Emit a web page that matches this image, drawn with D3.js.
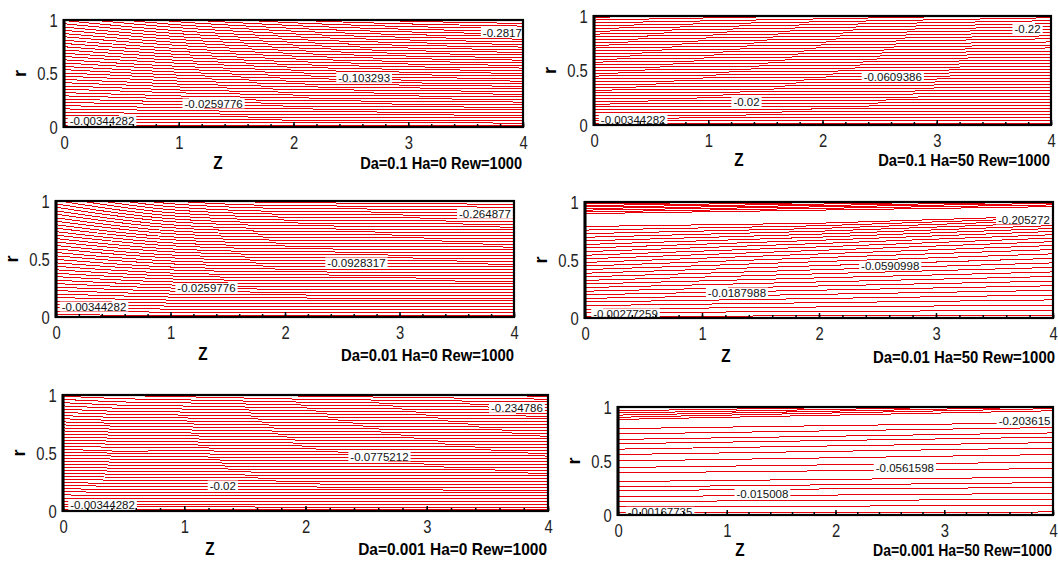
<!DOCTYPE html>
<html>
<head>
<meta charset="utf-8">
<script src="https://cdn.jsdelivr.net/npm/d3@7"></script>
<style>
  body { margin: 0; background: #fff; }
  svg { display: block; }
  text { font-family: "Liberation Sans", Arial, sans-serif; }
</style>
</head>
<body>
<div id="chart"></div>
<script>
// axis values
const xTicks = [0, 1, 2, 3, 4];
const yTicks = [0, 0.5, 1];
const yTickLabels = ["0", "0.5", "1"];

const titles = [
  "Da=0.1 Ha=0 Rew=1000", "Da=0.1 Ha=50 Rew=1000",
  "Da=0.01 Ha=0 Rew=1000", "Da=0.01 Ha=50 Rew=1000",
  "Da=0.001 Ha=0 Rew=1000", "Da=0.001 Ha=50 Rew=1000"
];

// z positions where each streamline's r values were read
const knotsA = [0, 1, 2, 4];
const knotsB = [0, 0.5, 1, 2, 4];
const knotsC = [0, 2, 4];

// Da=0.1 Ha=0 : r at z = 0,1,2,4
const p1Lines = [
  [.015,.014,.013,.012],[.046,.042,.039,.037],[.076,.069,.065,.061],[.108,.097,.091,.086],
  [.138,.124,.117,.110],[.169,.153,.143,.135],[.199,.180,.169,.159],[.230,.208,.195,.184],
  [.260,.235,.220,.208],[.291,.263,.247,.233],[.321,.290,.272,.257],[.353,.319,.299,.282],
  [.383,.346,.324,.306],[.414,.374,.351,.331],[.444,.401,.376,.355],[.475,.429,.403,.380],
  [.505,.457,.428,.404],[.536,.485,.455,.429],[.566,.512,.480,.453],[.598,.540,.507,.478],
  [.628,.567,.532,.502],[.659,.596,.559,.527],[.689,.623,.584,.551],[.720,.651,.611,.576],
  [.750,.678,.636,.600],[.781,.706,.663,.625],[.811,.733,.688,.649],[.843,.762,.714,.674],
  [.873,.789,.740,.698],[.904,.817,.766,.723],[.934,.844,.792,.747],[.965,.872,.818,.772],
  [.995,.899,.844,.796],[1.026,.928,.870,.821],[1.056,.955,.896,.845],[1.088,.983,.922,.870],
  [1.118,1.010,.948,.894],[1.149,1.038,.974,.919],[1.179,1.066,1.000,.943],[1.210,1.094,1.026,.968],
  [1.240,1.121,1.052,.992]
];

// Da=0.1 Ha=50 : r at z = 0,2,4
const p2Lines = [
  [.012,.012,.013],[.038,.039,.041],[.063,.066,.068],[.089,.093,.096],[.115,.120,.124],
  [.141,.147,.152],[.166,.173,.179],[.192,.200,.207],[.218,.227,.235],[.243,.253,.262],
  [.269,.280,.291],[.295,.307,.319],[.320,.333,.346],[.346,.360,.374],[.372,.387,.402],
  [.398,.414,.430],[.423,.440,.457],[.449,.467,.485],[.475,.494,.513],[.500,.520,.540],
  [.526,.547,.568],[.552,.574,.596],[.577,.600,.623],[.603,.627,.651],[.629,.654,.679],
  [.655,.681,.707],[.680,.707,.734],[.706,.734,.762],[.732,.761,.791],[.757,.787,.818],
  [.783,.814,.846],[.809,.841,.874],[.834,.867,.901],[.860,.894,.929],[.886,.921,.957],
  [.911,.947,.984],[.937,.974,1.012],[.963,1.002,1.040],[.988,1.028,1.067]
];

// Da=0.01 Ha=0 : r at z = 0,1,2,4
const p3Lines = [
  [.018,.016,.015,.015],[.049,.042,.041,.040],[.078,.068,.065,.064],[.109,.094,.090,.089],
  [.138,.120,.115,.113],[.168,.146,.140,.138],[.198,.172,.164,.162],[.228,.198,.190,.187],
  [.257,.224,.214,.211],[.288,.250,.240,.236],[.317,.276,.264,.260],[.348,.302,.289,.285],
  [.377,.328,.314,.309],[.407,.354,.339,.334],[.437,.379,.363,.358],[.467,.406,.389,.383],
  [.497,.431,.413,.407],[.527,.458,.438,.432],[.556,.483,.463,.456],[.587,.510,.488,.481],
  [.616,.535,.513,.505],[.647,.562,.538,.530],[.676,.587,.562,.554],[.706,.614,.588,.579],
  [.736,.639,.612,.603],[.766,.666,.637,.628],[.795,.691,.662,.652],[.826,.718,.687,.677],
  [.855,.743,.712,.701],[.886,.770,.737,.726],[.915,.795,.761,.750],[.946,.822,.787,.775],
  [.975,.847,.811,.799],[1.005,.873,.836,.824],[1.035,.899,.861,.848],[1.065,.925,.886,.873],
  [1.094,.951,.910,.897],[1.125,.977,.936,.922],[1.154,1.003,.960,.946],[1.185,1.029,.986,.971],
  [1.214,1.055,1.010,.995]
];

// Da=0.01 Ha=50 : r at z = 0,2,4 (core lines, then the wall layer)
const p4Lines = [
  [.015,.018,.022],[.045,.056,.066],[.076,.095,.112],[.107,.132,.156],[.138,.168,.198],
  [.169,.204,.238],[.200,.240,.278],[.231,.276,.318],[.262,.311,.358],[.293,.346,.397],
  [.324,.381,.436],[.355,.416,.475],[.386,.451,.514],[.417,.486,.553],[.448,.520,.590],
  [.479,.552,.625],[.510,.583,.658],[.541,.613,.689],[.572,.642,.718],[.603,.670,.746],
  [.634,.697,.772],[.665,.723,.797],[.696,.748,.820],[.727,.772,.842],[.758,.795,.862],
  [.789,.817,.880],
  [.900,.930,.960],[.915,.945,.975],[.930,.958,.988],[.944,.970,1.000],[.957,.982,1.012],
  [.970,.994,1.024],[.983,1.006,1.036]
];

// Da=0.001 Ha=0 : r at z = 0,0.5,1,2,4
const p5Lines = [
  [.010,.010,.010,.010,.010],[.035,.035,.035,.034,.034],[.060,.060,.059,.059,.058],
  [.085,.084,.084,.083,.082],[.112,.111,.110,.108,.107],[.138,.137,.136,.133,.131],
  [.165,.162,.161,.158,.156],[.192,.186,.186,.183,.180],[.220,.212,.210,.207,.205],
  [.248,.236,.236,.233,.229],[.274,.264,.261,.258,.254],[.300,.290,.287,.283,.278],
  [.326,.316,.313,.308,.303],[.352,.342,.339,.334,.327],[.378,.368,.364,.359,.352],
  [.404,.394,.390,.384,.376],[.430,.420,.416,.409,.401],[.456,.446,.442,.434,.425],
  [.482,.472,.467,.459,.450],[.508,.497,.493,.485,.474],[.534,.516,.519,.510,.499],
  [.560,.548,.545,.535,.523],[.586,.574,.570,.560,.548],[.612,.600,.596,.585,.572],
  [.638,.626,.622,.611,.597],[.664,.652,.648,.636,.621],[.690,.678,.673,.661,.646],
  [.716,.704,.699,.686,.670],[.742,.730,.725,.712,.695],[.768,.755,.751,.737,.719],
  [.795,.780,.776,.762,.744],[.822,.806,.802,.787,.768],[.850,.832,.827,.812,.793],
  [.878,.858,.853,.838,.817],[.906,.885,.879,.863,.842],[.934,.912,.905,.888,.866],
  [.962,.940,.932,.913,.891],[.990,.968,.958,.938,.915],[1.020,.996,.985,.963,.940],
  [1.050,1.025,1.012,.990,.964],[1.080,1.055,1.040,1.015,.989]
];

// Da=0.001 Ha=50 : r at z = 0,2,4 (core lines, then the wall layer)
const p6Lines = [
  [.020,.024,.028],[.075,.082,.090],[.125,.135,.145],[.170,.185,.200],[.225,.242,.255],
  [.260,.280,.300],[.310,.330,.350],[.390,.410,.430],[.440,.465,.490],[.500,.530,.560],
  [.560,.590,.620],[.610,.640,.670],[.660,.690,.720],[.700,.730,.760],[.750,.780,.810],
  [.800,.828,.855],
  [.885,.925,.965],[.905,.945,.985],[.925,.962,1.000],[.945,.978,1.015],[.965,.995,1.030]
];

// contour labels: text, z, r
const p1Labels = [["-0.00344282",0.05,0.055],["-0.0259776",1.05,0.22],["-0.103293",2.39,0.46],["-0.2817",3.65,0.88]];
const p2Labels = [["-0.00344282",0.06,0.05],["-0.02",1.22,0.21],["-0.0609386",2.36,0.44],["-0.22",3.68,0.88]];
const p3Labels = [["-0.00344282",0.05,0.09],["-0.0259776",1.06,0.25],["-0.0928317",2.37,0.47],["-0.264877",3.52,0.89]];
const p4Labels = [["-0.00277259",0.07,0.04],["-0.0187988",1.05,0.22],["-0.0590998",2.36,0.45],["-0.205272",3.53,0.85]];
const p5Labels = [["-0.00344282",0.06,0.05],["-0.02",1.21,0.22],["-0.0775212",2.37,0.47],["-0.234786",3.53,0.89]];
const p6Labels = [["-0.00167735",0.09,0.03],["-0.015008",1.09,0.2],["-0.0561598",2.37,0.44],["-0.203615",3.50,0.87]];

// layout of the six frames (pixels)
const panels = [
  { lines: p1Lines, knots: knotsA, labels: p1Labels, l: 64,  r: 523,  t: 20,  b: 127, zx: 218, zy: 163, titleEnd: 522,  titleLen: 162, titleY: 163 },
  { lines: p2Lines, knots: knotsC, labels: p2Labels, l: 594, r: 1051, t: 16,  b: 125, zx: 739, zy: 160, titleEnd: 1050, titleLen: 172, titleY: 160 },
  { lines: p3Lines, knots: knotsA, labels: p3Labels, l: 56,  r: 514,  t: 201, b: 317, zx: 203, zy: 354, titleEnd: 514,  titleLen: 173, titleY: 355 },
  { lines: p4Lines, knots: knotsC, labels: p4Labels, l: 585, r: 1053, t: 202, b: 318, zx: 726, zy: 356, titleEnd: 1055, titleLen: 182, titleY: 357 },
  { lines: p5Lines, knots: knotsB, labels: p5Labels, l: 63,  r: 548,  t: 395, b: 511, zx: 210, zy: 549, titleEnd: 547,  titleLen: 189, titleY: 549 },
  { lines: p6Lines, knots: knotsC, labels: p6Labels, l: 618, r: 1053, t: 407, b: 515, zx: 740, zy: 550, titleEnd: 1052, titleLen: 179, titleY: 550 }
];

const W = 1058, H = 563;
const svg = d3.select("#chart").append("svg")
  .attr("width", W).attr("height", H);
svg.append("rect").attr("width", W).attr("height", H).attr("fill", "#fff");

panels.forEach((p, k) => drawPanel(p, k));

function drawPanel(p, k) {
  const x = d3.scaleLinear().domain([0, 4]).range([p.l, p.r]);
  const y = d3.scaleLinear().domain([0, 1]).range([p.b, p.t]);
  const g = svg.append("g");

  const clipId = "clip" + k;
  g.append("clipPath").attr("id", clipId)
    .append("rect")
    .attr("x", p.l).attr("y", p.t)
    .attr("width", p.r - p.l).attr("height", p.b - p.t);

  const plot = g.append("g").attr("clip-path", "url(#" + clipId + ")");

  const line = d3.line()
    .x((d, i) => x(p.knots[i]))
    .y(d => y(d))
    .curve(d3.curveMonotoneX);

  plot.selectAll("path.c")
    .data(p.lines)
    .enter().append("path")
    .attr("class", "c")
    .attr("d", line)
    .attr("fill", "none")
    .attr("stroke", "#e8000a")
    .attr("stroke-width", 1)
    .attr("shape-rendering", "crispEdges");

  // contour labels on white boxes
  p.labels.forEach(lb => {
    const lg = plot.append("g");
    const txt = lg.append("text")
      .attr("x", x(lb[1]))
      .attr("y", y(lb[2]))
      .attr("dy", "0.36em")
      .attr("font-size", 11.5)
      .attr("fill", "#111")
      .text(lb[0]);
    const bb = txt.node().getBBox();
    lg.insert("rect", "text")
      .attr("x", bb.x - 2).attr("y", y(lb[2]) - 5)
      .attr("width", bb.width + 4).attr("height", 10)
      .attr("fill", "#fff");
  });

  // frame
  g.append("rect")
    .attr("x", p.l).attr("y", p.t)
    .attr("width", p.r - p.l).attr("height", p.b - p.t)
    .attr("fill", "none").attr("stroke", "#000").attr("stroke-width", 2.2);
  g.append("line")
    .attr("x1", p.l).attr("x2", p.l).attr("y1", p.t - 1).attr("y2", p.b + 1)
    .attr("stroke", "#000").attr("stroke-width", 3);

  // minor ticks
  g.append("g")
    .attr("transform", "translate(0," + p.b + ")")
    .call(d3.axisBottom(x).ticks(20).tickSize(-3).tickFormat(""))
    .call(a => a.select(".domain").remove())
    .call(a => a.selectAll("line").attr("stroke", "#000").attr("stroke-width", 1.5));

  // major ticks and labels
  const xa = g.append("g")
    .attr("transform", "translate(0," + p.b + ")")
    .call(d3.axisBottom(x).tickValues(xTicks).tickSize(-5).tickPadding(9).tickFormat(d3.format("d")));
  xa.select(".domain").remove();
  xa.selectAll("line").attr("stroke", "#000").attr("stroke-width", 1.5);
  xa.selectAll("text")
    .attr("font-family", "Liberation Sans, Arial, sans-serif")
    .attr("font-size", 19)
    .attr("fill", "#222")
    .attr("transform", "scale(0.78,1)");

  const ya = g.append("g")
    .attr("transform", "translate(" + p.l + ",0)")
    .call(d3.axisLeft(y).tickValues(yTicks).tickSize(0).tickPadding(8)
      .tickFormat((d, i) => yTickLabels[i]));
  ya.select(".domain").remove();
  ya.selectAll("text")
    .attr("font-family", "Liberation Sans, Arial, sans-serif")
    .attr("font-size", 19)
    .attr("fill", "#222")
    .attr("transform", "scale(0.78,1)");

  // axis titles
  g.append("text")
    .attr("transform", "translate(" + (p.l - 44) + "," + ((p.t + p.b) / 2) + ") rotate(-90)")
    .attr("text-anchor", "middle")
    .attr("dy", "0.36em")
    .attr("font-size", 18).attr("font-weight", "bold")
    .text("r");

  g.append("text")
    .attr("transform", "translate(" + p.zx + "," + p.zy + ") scale(0.85,1)")
    .attr("text-anchor", "middle")
    .attr("dy", "0.36em")
    .attr("font-size", 18).attr("font-weight", "bold")
    .text("Z");

  // panel caption, squeezed horizontally to the measured width
  const cap = g.append("text")
    .attr("text-anchor", "end")
    .attr("dy", "0.36em")
    .attr("font-size", 17).attr("font-weight", "bold")
    .text(titles[k]);
  const natural = cap.node().getComputedTextLength();
  cap.attr("transform", "translate(" + p.titleEnd + "," + p.titleY + ") scale(" + (p.titleLen / natural) + ",1)");
}
</script>
</body>
</html>
